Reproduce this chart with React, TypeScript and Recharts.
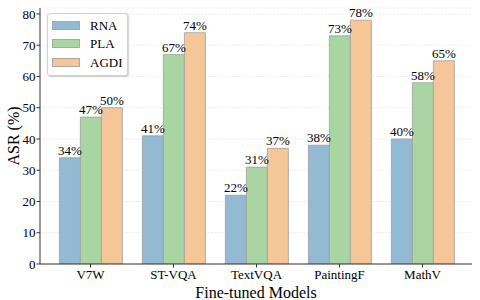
import React from 'react';
import { BarChart, Bar, XAxis, YAxis, CartesianGrid, LabelList } from 'recharts';

const categories = ['V7W', 'ST-VQA', 'TextVQA', 'PaintingF', 'MathV'];
const rnaValues = [34, 41, 22, 38, 40];
const plaValues = [47, 67, 31, 73, 58];
const agdiValues = [50, 74, 37, 78, 65];
const yTicks = [0, 10, 20, 30, 40, 50, 60, 70, 80];

const seriesNames = ['RNA', 'PLA', 'AGDI'];
const seriesColors = ['#93bad2', '#a9d5a3', '#f5c698'];

const data = categories.map((c, i) => ({
  name: c,
  RNA: rnaValues[i],
  PLA: plaValues[i],
  AGDI: agdiValues[i],
}));

const FONT = '"Liberation Serif", "Times New Roman", serif';

const LegendBox = () => (
  <div
    style={{
      position: 'absolute',
      left: 47,
      top: 13,
      width: 81,
      height: 63,
      boxSizing: 'border-box',
      background: '#fff',
      border: '1px solid #d0d0d0',
      borderRadius: 3,
      boxShadow: '1px 1px 1.5px rgba(0,0,0,0.18)',
      padding: '2px 0 0 4px',
      fontFamily: FONT,
      fontSize: 13,
      color: '#000',
    }}
  >
    {seriesNames.map((n, i) => (
      <div key={n} style={{ display: 'flex', alignItems: 'center', height: 18.5, fontFamily: FONT }}>
        <div
          style={{
            width: 28,
            height: 9,
            background: seriesColors[i],
            border: '0.5px solid #a8a8a8',
            marginRight: 10,
            boxSizing: 'border-box',
          }}
        />
        <span style={{ fontFamily: FONT, fontSize: 13, lineHeight: '13px' }}>{n}</span>
      </div>
    ))}
  </div>
);

export default function App() {
  return (
    <div style={{ position: 'absolute', left: 0, top: 0, width: 480, height: 300, background: '#fff' }}>
      <BarChart
        width={480}
        height={300}
        data={data}
        margin={{ top: 8, right: 8, left: 0, bottom: 0 }}
        barCategoryGap="12.5%"
        barGap={0}
      >
        <CartesianGrid horizontal vertical={false} stroke="#e2e2e2" strokeDasharray="1.5 1.5" strokeWidth={0.8} />
        <XAxis
          dataKey="name"
          height={36}
          padding={{ left: 9, right: 8 }}
          tickSize={3.5}
          tickMargin={2}
          tickLine={{ stroke: '#333' }}
          axisLine={{ stroke: '#333', strokeWidth: 1 }}
          tick={{ fontFamily: FONT, fontSize: 13, fill: '#000' }}
          interval={0}
          label={{ value: 'Fine-tuned Models', position: 'insideBottom', offset: 2, style: { fontFamily: FONT, fontSize: 16, fill: '#000' } }}
        />
        <XAxis xAxisId="top" dataKey="name" orientation="top" height={0} tick={false} tickLine={false} axisLine={{ stroke: '#555', strokeWidth: 1 }} />
        <YAxis
          width={40}
          domain={[0, 81.9]}
          ticks={yTicks}
          allowDataOverflow
          tickSize={3.5}
          tickMargin={1}
          tickLine={{ stroke: '#333' }}
          axisLine={{ stroke: '#333', strokeWidth: 1 }}
          tick={{ fontFamily: FONT, fontSize: 13, fill: '#000' }}
          label={{ value: 'ASR (%)', angle: -90, position: 'insideLeft', offset: 13, style: { fontFamily: FONT, fontSize: 16, fill: '#000', textAnchor: 'middle' } }}
        />
        <YAxis yAxisId="right" orientation="right" width={0} tick={false} tickLine={false} axisLine={{ stroke: '#555', strokeWidth: 1 }} />
        {seriesNames.map((n, i) => (
          <Bar key={n} dataKey={n} name={n} fill={seriesColors[i]} stroke="#a0a0a0" strokeWidth={0.8} isAnimationActive={false}>
            <LabelList
              dataKey={n}
              position="top"
              offset={3}
              formatter={(v: any) => `${v}%`}
              style={{ fontFamily: FONT, fontSize: 13, fill: '#000' }}
            />
          </Bar>
        ))}
      </BarChart>
      <LegendBox />
    </div>
  );
}
